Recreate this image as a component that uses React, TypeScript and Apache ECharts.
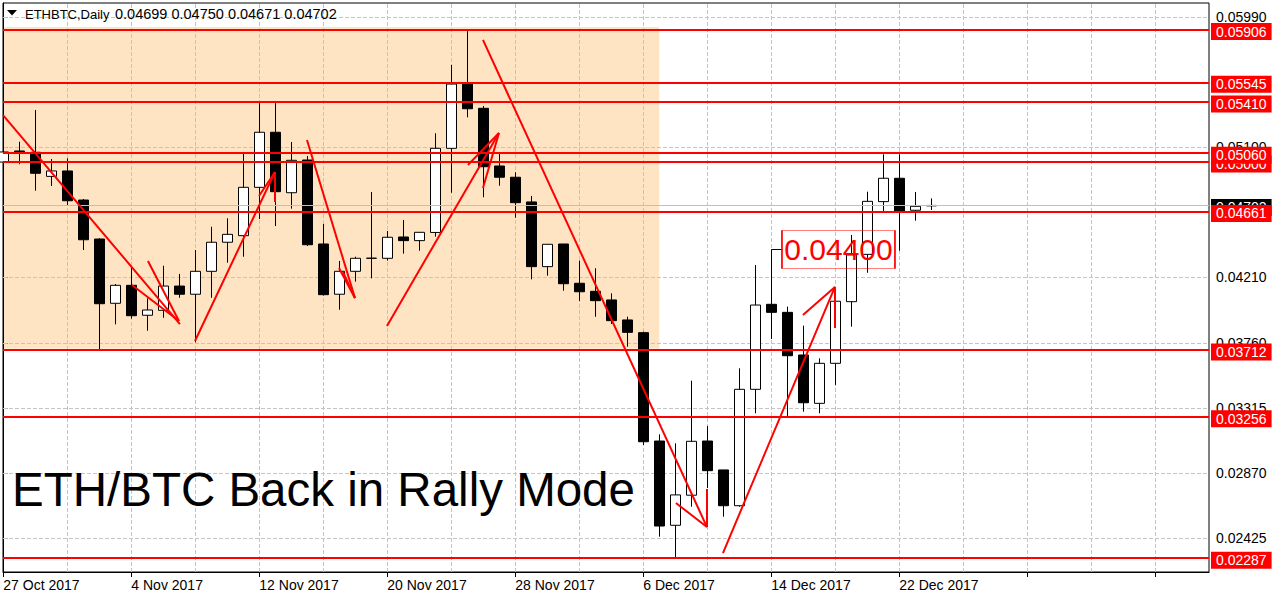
import { useEffect, useRef } from 'react';
import * as echarts from 'echarts';

// ---- Data ----
const opens = [0.04999, 0.05075, 0.05066, 0.04901, 0.04938, 0.04739, 0.04472, 0.04032, 0.04155, 0.0395, 0.03984, 0.0415, 0.04094, 0.04251, 0.0445, 0.04495, 0.04826, 0.05203, 0.04789, 0.05013, 0.04438, 0.04094, 0.04251, 0.0434, 0.0434, 0.04486, 0.04461, 0.04517, 0.05093, 0.05533, 0.05367, 0.04972, 0.04895, 0.04726, 0.04283, 0.04438, 0.04169, 0.04114, 0.04055, 0.03918, 0.03831, 0.03089, 0.02512, 0.02718, 0.03089, 0.02891, 0.02646, 0.03443, 0.04025, 0.0397, 0.03678, 0.03347, 0.03621, 0.04043, 0.04367, 0.04728, 0.04888, 0.04669, 0.04699];
const closes = [0.05068, 0.05063, 0.04922, 0.04938, 0.04734, 0.04467, 0.04029, 0.04155, 0.03947, 0.03986, 0.0415, 0.04094, 0.04251, 0.0445, 0.04504, 0.04826, 0.05203, 0.04796, 0.05011, 0.04433, 0.04091, 0.04251, 0.0434, 0.04341, 0.04484, 0.04461, 0.04518, 0.05093, 0.05533, 0.05364, 0.04967, 0.04895, 0.04721, 0.04283, 0.04436, 0.04166, 0.04111, 0.0405, 0.03913, 0.03833, 0.03084, 0.02507, 0.0272, 0.03087, 0.02886, 0.02646, 0.03443, 0.0402, 0.0397, 0.03673, 0.03351, 0.03621, 0.04046, 0.04363, 0.0473, 0.04888, 0.04664, 0.04696, 0.04702];
const lows = [0.04897, 0.04984, 0.04803, 0.04835, 0.04698, 0.04397, 0.03717, 0.03888, 0.03927, 0.03844, 0.03933, 0.0407, 0.03765, 0.0407, 0.0431, 0.04351, 0.04609, 0.04561, 0.0468, 0.04425, 0.04085, 0.03988, 0.0418, 0.04203, 0.04324, 0.04372, 0.04392, 0.04488, 0.04789, 0.05305, 0.04758, 0.04837, 0.04618, 0.04196, 0.04221, 0.04118, 0.04048, 0.0394, 0.0389, 0.03735, 0.03062, 0.02434, 0.02293, 0.02639, 0.02767, 0.02571, 0.02639, 0.03279, 0.03788, 0.0326, 0.0329, 0.03279, 0.03473, 0.03872, 0.04241, 0.04664, 0.04392, 0.04598, 0.04671];
const highs = [0.05136, 0.05138, 0.05355, 0.0502, 0.05025, 0.04746, 0.04477, 0.04164, 0.04283, 0.04066, 0.04289, 0.04233, 0.04397, 0.04556, 0.04614, 0.05068, 0.05403, 0.0541, 0.05136, 0.05041, 0.04575, 0.04322, 0.04351, 0.04794, 0.04527, 0.04602, 0.0452, 0.05196, 0.05664, 0.05896, 0.05383, 0.05066, 0.04929, 0.04767, 0.04438, 0.04438, 0.04324, 0.04272, 0.041, 0.0394, 0.03838, 0.03135, 0.03073, 0.03502, 0.03192, 0.02891, 0.03587, 0.04294, 0.044, 0.04009, 0.03879, 0.03655, 0.04082, 0.045, 0.04796, 0.05052, 0.05052, 0.04794, 0.0475];

const dateTickIdx = [0, 8, 16, 24, 32, 40, 48, 56];
const dateLabels = ['27 Oct 2017', '4 Nov 2017', '12 Nov 2017', '20 Nov 2017', '28 Nov 2017', '6 Dec 2017', '14 Dec 2017', '22 Dec 2017'];
const xTickIdx = [0, 8, 16, 24, 32, 40, 48, 56, 64, 72];
const vGridIdx = [4, 8, 12, 16, 20, 24, 28, 32, 36, 40, 44, 48, 52, 56, 60, 64, 68, 72];

const priceGrid = [0.02425, 0.0287, 0.03315, 0.0376, 0.0421, 0.04655, 0.051, 0.05545, 0.0599];
const priceLabels = [0.02425, 0.0287, 0.03315, 0.0376, 0.0421, 0.051, 0.0599];
const levels = [0.05906, 0.05545, 0.0541, 0.05, 0.0506, 0.04661, 0.03712, 0.03256, 0.02287];
const bidPrice = 0.04702;

const headerSymbol = 'ETHBTC,Daily';
const headerOHLC = '0.04699 0.04750 0.04671 0.04702';
const title = 'ETH/BTC Back in Rally Mode';

// zone: [xStart, yTop, xEnd, yBottom]
const zone = [-0.02, 0.05924, 41, 0.0372];

// arrows: [x1, y1, x2, y2] in (bar index, price)
const arrows = [
  [-0.02, 0.05321, 11.04, 0.0389],
  [8.04, 0.04157, 10.98, 0.03911],
  [9.04, 0.04322, 10.98, 0.03911],
  [11.98, 0.03774, 16.98, 0.04931],
  [15.98, 0.04767, 16.98, 0.04931],
  [16.98, 0.04726, 16.98, 0.04931],
  [18.98, 0.0515, 21.98, 0.04068],
  [20.98, 0.04274, 21.98, 0.04068],
  [21.23, 0.04246, 21.98, 0.04068],
  [23.98, 0.03877, 30.98, 0.05198],
  [29.04, 0.04979, 30.98, 0.05198],
  [29.98, 0.04821, 30.98, 0.05198],
  [29.98, 0.05835, 43.98, 0.025],
  [42.04, 0.02665, 43.98, 0.025],
  [43.98, 0.02761, 43.98, 0.025],
  [44.98, 0.02322, 51.98, 0.04144],
  [49.98, 0.03952, 51.98, 0.04144],
  [51.98, 0.03863, 51.98, 0.04144],
];

const highMarkPrice = 0.044;
const highMarkBar = 48;
const highBoxEdge = 48.69;
const highBoxCenter = 52.2;

const FONT = 'Liberation Sans';

export default function App() {
  const ref = useRef<HTMLDivElement>(null);
  useEffect(() => {
    if (!ref.current) return;
    const chart = echarts.init(ref.current, undefined, { renderer: 'svg' });
    const candleData = opens.map((o, i) => [i, o, closes[i], lows[i], highs[i]]);
    const option: any = {
      animation: false,
      backgroundColor: '#fff',
      grid: { left: 3, right: 68, top: 3, bottom: 28, show: true, borderColor: '#000', borderWidth: 1, backgroundColor: '#fff' },
      xAxis: {
        type: 'value',
        min: -0.02,
        max: 75.36,
        axisLine: { show: true, lineStyle: { color: '#000', width: 1 } },
        axisTick: { show: true, length: 5, customValues: xTickIdx, lineStyle: { color: '#000' } },
        axisLabel: {
          show: true,
          customValues: dateTickIdx,
          formatter: (v: number) => {
            const k = dateTickIdx.indexOf(Math.round(v));
            return k >= 0 ? dateLabels[k] : '';
          },
          align: 'left',
          margin: 6,
          color: '#000',
          fontSize: 14,
          fontFamily: FONT,
        },
        splitLine: { show: false },
      },
      yAxis: {
        type: 'value',
        position: 'right',
        min: 0.021922,
        max: 0.06088,
        axisLine: { show: true, lineStyle: { color: '#000', width: 1 } },
        axisTick: { show: true, length: 4, customValues: priceGrid, lineStyle: { color: '#000' } },
        axisLabel: {
          show: true,
          customValues: priceLabels,
          formatter: (v: number) => v.toFixed(5),
          margin: 7,
          color: '#000',
          fontSize: 14,
          fontFamily: FONT,
        },
        splitLine: { show: false },
      },
      series: [
        {
          type: 'line',
          name: 'grid',
          data: [[0, 0.04]],
          symbol: 'none',
          lineStyle: { width: 0 },
          silent: true,
          z: 1,
          markLine: {
            silent: true,
            symbol: 'none',
            precision: 6,
            z: 1,
            label: { show: false },
            lineStyle: { color: '#c4c4c4', type: 'dashed', width: 1 },
            data: [
              ...vGridIdx.map((v) => ({ xAxis: v })),
              ...priceGrid.map((v) => ({ yAxis: v })),
            ],
          },
        },
        {
          type: 'candlestick',
          name: 'ETHBTC',
          data: candleData,
          encode: { x: 0, y: [1, 2, 3, 4] },
          barWidth: 10,
          z: 2,
          itemStyle: { color: '#fff', color0: '#000', borderColor: '#000', borderColor0: '#000', borderWidth: 1 },
          markArea: {
            silent: true,
            z: 0,
            itemStyle: { color: '#FFE4C4' },
            data: [[{ xAxis: zone[0], yAxis: zone[1] }, { xAxis: zone[2], yAxis: zone[3] }]],
          },
        },
        {
          type: 'line',
          name: 'levels',
          data: [[0, 0.04]],
          symbol: 'none',
          lineStyle: { width: 0 },
          silent: true,
          markLine: {
            silent: true,
            symbol: 'none',
            precision: 6,
            z: 5,
            lineStyle: { color: '#ff0000', width: 2, type: 'solid' },
            label: {
              show: true,
              position: 'end',
              distance: 2,
              formatter: (p: any) => Number(p.value).toFixed(5),
              color: '#fff',
              backgroundColor: '#ff0000',
              padding: [2, 5, 1, 5],
              fontSize: 14,
              fontFamily: FONT,
              offset: [0, 2],
            },
            data: [
              { yAxis: bidPrice, lineStyle: { color: '#c0c0c0', width: 1, type: 'solid' }, label: { backgroundColor: '#000' } },
              ...levels.map((v) => ({ yAxis: v })),
            ],
          },
        },
        {
          type: 'line',
          name: 'arrows',
          data: [[0, 0.04]],
          symbol: 'none',
          lineStyle: { width: 0 },
          silent: true,
          markLine: {
            silent: true,
            symbol: 'none',
            precision: 6,
            z: 5,
            label: { show: false },
            lineStyle: { color: '#ff0000', width: 2, type: 'solid' },
            data: [
              ...arrows.map((a) => [{ coord: [a[0], a[1]] }, { coord: [a[2], a[3]] }]),
              [
                { coord: [highMarkBar, highMarkPrice], lineStyle: { color: '#000', width: 1, type: 'solid' } },
                { coord: [highBoxEdge, highMarkPrice] },
              ],
            ],
          },
          markPoint: {
            silent: true,
            z: 5,
            data: [
              {
                coord: [highBoxCenter, highMarkPrice],
                symbol: 'rect',
                symbolSize: [113, 38],
                itemStyle: { color: 'rgba(0,0,0,0)', borderColor: '#ff0000', borderWidth: 1 },
                label: {
                  show: true,
                  position: 'inside',
                  formatter: highMarkPrice.toFixed(5),
                  color: '#ff0000',
                  fontSize: 30,
                  fontFamily: FONT,
                },
              },
            ],
          },
        },
      ],
      graphic: [
        { type: 'polygon', z: 10, shape: { points: [[7, 10], [17, 10], [12, 15.5]] }, style: { fill: '#000' } },
        { type: 'text', z: 10, x: 25, y: 14, style: { text: headerSymbol, fill: '#000', fontSize: 13, fontFamily: FONT, verticalAlign: 'middle' } },
        { type: 'text', z: 10, x: 115, y: 14, style: { text: headerOHLC, fill: '#000', fontSize: 14.5, fontFamily: FONT, verticalAlign: 'middle' } },
        { type: 'text', z: 10, x: 12, y: 489, style: { text: title, fill: '#000', fontSize: 47.5, fontFamily: FONT, verticalAlign: 'middle' } },
      ],
    };
    chart.setOption(option);
    return () => chart.dispose();
  }, []);
  return <div ref={ref} style={{ position: 'absolute', left: 0, top: 0, width: 1277, height: 600 }} />;
}
